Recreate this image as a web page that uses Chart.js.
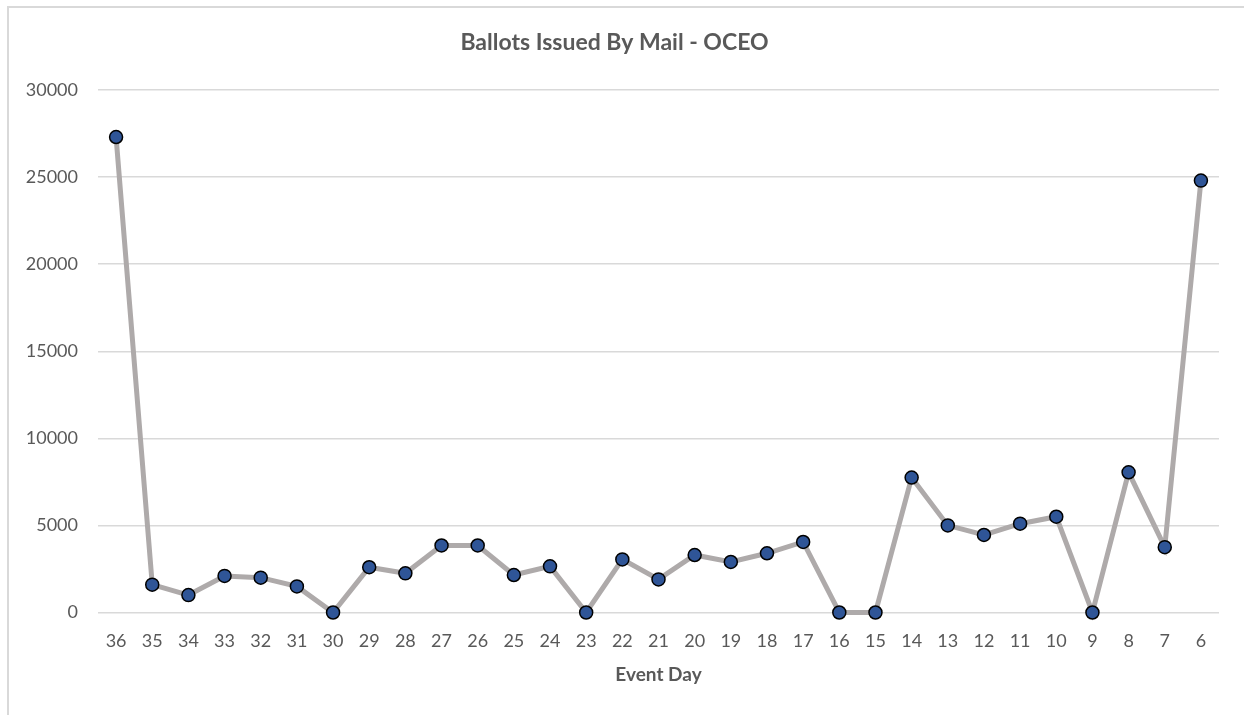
<!DOCTYPE html>
<html>
<head>
<meta charset="utf-8">
<script src="https://cdn.jsdelivr.net/npm/chart.js@4"></script>
<style>
  html, body { margin: 0; padding: 0; background: #fff; }
  #frame {
    position: absolute; left: 7px; top: 6px; width: 1300px; height: 800px;
    border-left: 2px solid #d9d9d9; border-top: 2px solid #d9d9d9;
  }
  #wrap { position: absolute; left: 0; top: 0; width: 1244px; height: 715px; }
</style>
</head>
<body>
<div id="frame"></div>
<div id="wrap"><canvas id="ballotsChart"></canvas></div>
<script>
const eventDays = ['36', '35', '34', '33', '32', '31', '30', '29', '28', '27', '26', '25', '24', '23', '22', '21',
                   '20', '19', '18', '17', '16', '15', '14', '13', '12', '11', '10', '9', '8', '7', '6'];
const ballots = [27300, 1600, 1000, 2100, 2000, 1500, 0, 2600, 2250, 3850, 3850, 2150, 2650, 0, 3050, 1900,
                 3300, 2900, 3400, 4050, 0, 0, 7750, 5000, 4450, 5100, 5500, 0, 8050, 3750, 24800];
const yTicks = [0, 5000, 10000, 15000, 20000, 25000, 30000];

const textColor = '#595959';
const fontFamily = 'Lato, "Open Sans", sans-serif';

const ctx = document.getElementById('ballotsChart').getContext('2d');

new Chart(ctx, {
    type: 'line',
    data: {
        labels: eventDays,
        datasets: [
            {
                label: 'Ballots Issued',
                data: ballots,
                borderColor: '#aeaaaa',
                borderWidth: 5,
                pointRadius: 6.5,
                pointHoverRadius: 6.5,
                pointBackgroundColor: '#2f5597',
                pointBorderColor: '#000000',
                pointBorderWidth: 1.5,
                tension: 0,
                clip: false
            }
        ]
    },
    options: {
        responsive: true,
        maintainAspectRatio: false,
        animation: false,
        layout: {
            padding: { left: 10, right: 25, top: 0, bottom: 28.6 }
        },
        plugins: {
            legend: { display: false },
            tooltip: { enabled: false },
            title: {
                display: true,
                text: 'Ballots Issued By Mail - OCEO',
                color: textColor,
                font: { family: fontFamily, size: 23, weight: 'bold' },
                padding: { top: 29, bottom: 33.4 }
            }
        },
        scales: {
            x: {
                offset: true,
                grid: { display: false },
                border: { display: false },
                ticks: {
                    color: textColor,
                    font: { family: fontFamily, size: 18 },
                    padding: 10,
                    autoSkip: false,
                    maxRotation: 0
                },
                title: {
                    display: true,
                    text: 'Event Day',
                    color: textColor,
                    font: { family: fontFamily, size: 19, weight: 'bold' },
                    padding: { top: 1.5, bottom: 0 }
                }
            },
            y: {
                min: yTicks[0],
                max: yTicks[yTicks.length - 1],
                afterFit: (scale) => { scale.width = 88; },
                afterBuildTicks: (scale) => { scale.ticks = yTicks.map(v => ({ value: v })); },
                grid: { color: '#d9d9d9', lineWidth: 1.5, drawTicks: false },
                border: { display: false },
                ticks: {
                    color: textColor,
                    font: { family: fontFamily, size: 18 },
                    padding: 20,
                    callback: (value) => String(value)
                }
            }
        }
    }
});
</script>
</body>
</html>
